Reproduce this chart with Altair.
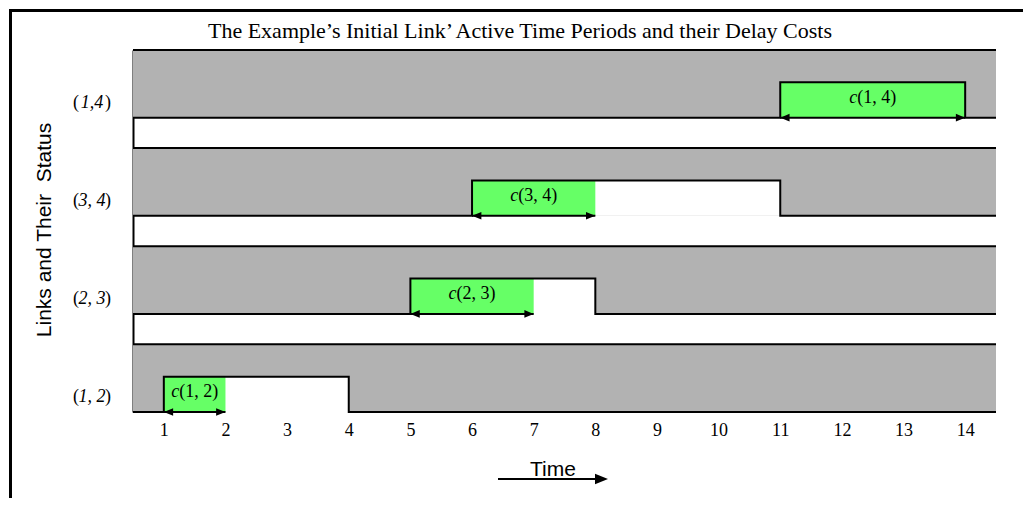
import altair as alt
import pandas as pd

# ---------------- data ----------------
links = ["(1, 2)", "(2, 3)", "(3, 4)", "(1,4)"]          # bottom -> top
link_nums = ["1, 2", "2, 3", "3, 4", "1,4"]
active_start = [1, 5, 6, 11]                               # link becomes active
active_end = [4, 8, 11, 14]                                # link becomes inactive
cost_end = [2, 7, 8, 14]                                   # end of delay-cost period
cost_nums = ["(1, 2)", "(2, 3)", "(3, 4)", "(1, 4)"]
tick_values = list(range(1, 15))

title_text = "The Example\u2019s Initial Link\u2019 Active Time Periods and their Delay Costs"
y_title = "Links and Their\u00a0 Status"
x_title = "Time"

# ---------------- styling ----------------
X_MIN, X_MAX = 0.5, 14.5
HIGH = 0.36      # active level above the baseline (row units)
TOP = 0.69       # top of each row band (row units)
GREY = "#B2B2B2"
GREEN = "#66FF66"
SERIF = "Liberation Serif"
SANS = "Liberation Sans"
LW = 2

rows = pd.DataFrame({
    "link": links,
    "nums": link_nums,
    "cnums": cost_nums,
    "s": active_start,
    "e": active_end,
    "ce": cost_end,
})
rows["base"] = range(len(rows))
rows["high"] = rows["base"] + HIGH
rows["top"] = rows["base"] + TOP
rows["x0"] = X_MIN
rows["x1"] = X_MAX
rows["mid"] = (rows["s"] + rows["ce"]) / 2

sig = []
for _, r in rows.iterrows():
    pts = [(X_MIN, r.base), (r.s, r.base), (r.s, r.high), (r.e, r.high), (r.e, r.base), (X_MAX, r.base)]
    for k, (px, py) in enumerate(pts):
        sig.append({"link": r.link, "k": k, "x": px, "y": py})
sig = pd.DataFrame(sig)

xs = alt.Scale(domain=[X_MIN, X_MAX], nice=False, zero=False)
ys = alt.Scale(domain=[0, 3 + TOP], nice=False, zero=False)
AX = alt.Axis(values=tick_values, title=None, domain=False, ticks=False, grid=False,
              labelFont=SERIF, labelFontSize=18, labelColor="black", labelPadding=9,
              labelAngle=0, labelFlush=False)
AY = alt.Axis(title=None, labels=False, ticks=False, grid=False, domain=True,
              domainColor="black", domainWidth=LW)


def X(f):
    return alt.X(f, scale=xs, axis=AX)


def Y(f):
    return alt.Y(f, scale=ys, axis=AY)


base = alt.Chart(rows)

grey = base.mark_rect(color=GREY).encode(x=X("x0:Q"), x2="x1:Q", y=Y("base:Q"), y2="top:Q")
white = base.mark_rect(color="white").encode(x=X("s:Q"), x2="e:Q", y=Y("base:Q"), y2="high:Q")
green = base.mark_rect(color=GREEN).encode(x=X("s:Q"), x2="ce:Q", y=Y("base:Q"), y2="high:Q")
toplines = base.mark_rule(color="black", strokeWidth=LW).encode(x=X("x0:Q"), x2="x1:Q", y=Y("top:Q"))
signal = alt.Chart(sig).mark_line(color="black", strokeWidth=LW).encode(
    x=X("x:Q"), y=Y("y:Q"), detail="link:N", order="k:Q")
arrows = base.mark_rule(color="black", strokeWidth=LW).encode(x=X("s:Q"), x2="ce:Q", y=Y("base:Q"))
LEFT = "M0,0L2.2,-0.9L2.2,0.9Z"
RIGHT = "M0,0L-2.2,-0.9L-2.2,0.9Z"
head_l = base.mark_point(shape=LEFT, filled=True, size=72, color="black", opacity=1, strokeWidth=0).encode(
    x=X("s:Q"), y=Y("base:Q"))
head_r = base.mark_point(shape=RIGHT, filled=True, size=72, color="black", opacity=1, strokeWidth=0).encode(
    x=X("ce:Q"), y=Y("base:Q"))

c_it = base.mark_text(text="c", font=SERIF, fontStyle="italic", fontSize=18, color="black",
                      align="left", baseline="alphabetic", dx=-23.5, dy=-15).encode(x=X("mid:Q"), y=Y("base:Q"))
c_rest = base.mark_text(font=SERIF, fontSize=18, color="black", align="left", baseline="alphabetic",
                        dx=-15.5, dy=-15).encode(x=X("mid:Q"), y=Y("base:Q"), text="cnums:N")

lab_open = base.mark_text(text="(", font=SERIF, fontSize=18, color="black", align="left",
                          baseline="alphabetic", dy=-10).encode(x=alt.value(-60), y=Y("base:Q"))
lab_nums = base.mark_text(font=SERIF, fontStyle="italic", fontSize=18, color="black", align="center",
                          baseline="alphabetic", dy=-10).encode(x=alt.value(-41), y=Y("base:Q"), text="nums:N")
lab_close = base.mark_text(text=")", font=SERIF, fontSize=18, color="black", align="right",
                           baseline="alphabetic", dy=-10).encode(x=alt.value(-22), y=Y("base:Q"))

ann = alt.Chart(pd.DataFrame({"a": [0]}))
title = ann.mark_text(text=title_text, font=SERIF, fontSize=22, color="black", align="center",
                      baseline="alphabetic").encode(x=alt.value(387), y=alt.value(-12))
ytitle = ann.mark_text(text=y_title, font=SANS, fontSize=21, color="black", align="center",
                       baseline="alphabetic", angle=270).encode(x=alt.value(-82), y=alt.value(180))
xtitle = ann.mark_text(text=x_title, font=SANS, fontSize=21, color="black", align="left",
                       baseline="alphabetic").encode(x=alt.value(397), y=alt.value(426))
tline = ann.mark_rule(color="black", strokeWidth=LW).encode(x=alt.value(365), x2=alt.value(468), y=alt.value(429))
thead = ann.mark_point(shape=RIGHT, filled=True, size=139, color="black", opacity=1, strokeWidth=0).encode(
    x=alt.value(475), y=alt.value(429))
frame_l = ann.mark_rule(color="black", strokeWidth=3).encode(x=alt.value(-122.5), y=alt.value(-41), y2=alt.value(448))
frame_t = ann.mark_rule(color="black", strokeWidth=3).encode(x=alt.value(-124), x2=alt.value(890), y=alt.value(-39.5))

chart = alt.layer(
    grey, white, green, toplines, signal, arrows, head_l, head_r,
    c_it, c_rest, lab_open, lab_nums, lab_close,
    title, ytitle, xtitle, tline, thead, frame_l, frame_t,
).properties(
    width=863, height=362,
    padding={"left": 125, "top": 42, "right": 27, "bottom": 86},
    autosize=alt.AutoSizeParams(type="none"),
).configure_view(stroke=None)

chart.save("out.html", embed_options={"renderer": "svg", "actions": False})
